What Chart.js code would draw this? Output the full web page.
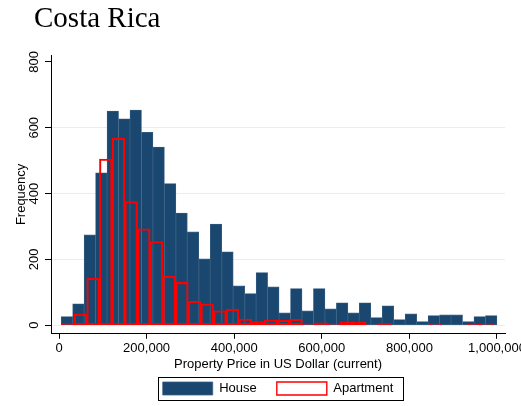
<!DOCTYPE html>
<html>
<head>
<meta charset="utf-8">
<script src="https://cdn.jsdelivr.net/npm/chart.js@4"></script>
<style>
  html, body { margin: 0; padding: 0; background: #fff; }
</style>
</head>
<body>
<canvas id="histChart" width="521" height="406"></canvas>
<script>
// titel en labels
const chartTitle = 'Costa Rica';
const seriesNames = ['House', 'Apartment'];
const xTitle = 'Property Price in US Dollar (current)';
const yTitle = 'Frequency';

// histogram bins
const houseStart = 5000;
const houseBinWidth = 26180;
const houseCounts = [26, 65, 275, 463, 651, 627, 654, 586, 541, 430,
                     341, 284, 202, 307, 223, 120, 96, 160, 117, 38,
                     111, 44, 111, 50, 68, 38, 68, 23, 59, 17,
                     35, 11, 29, 32, 32, 11, 26, 29];

const aptStart = 5500;
const aptBinWidth = 28950;
const aptCounts = [5, 34, 143, 505, 568, 376, 293, 254, 149, 130,
                   73, 65, 44, 48, 19, 11, 16, 15, 18, 4,
                   7, 4, 10, 10, 2, 6, 0, 0, 0, 4,
                   0, 0, 3, 4];

// ejes
const xTicks = [0, 200000, 400000, 600000, 800000, 1000000];
const yTicks = [0, 200, 400, 600, 800];
const xRange = [-18265, 1018265];
const yRange = [-26, 821];

const toBins = (start, width, counts) =>
  counts.map((c, i) => ({ x: start + (i + 0.5) * width, y: c }));

const font13 = { family: '"Liberation Sans", Arial, sans-serif', size: 13 };

// extra drawing: title, rotated y labels, legend frame
const extras = {
  id: 'extras',
  afterDraw(chart) {
    const ctx = chart.ctx;
    ctx.save();
    ctx.fillStyle = '#000';
    ctx.font = '29px "Liberation Serif", "Times New Roman", serif';
    ctx.textAlign = 'left';
    ctx.textBaseline = 'alphabetic';
    ctx.fillText(chartTitle, 34, 27);

    const y = chart.scales.y;
    ctx.font = '13px "Liberation Sans", Arial, sans-serif';
    ctx.textAlign = 'center';
    ctx.textBaseline = 'middle';
    yTicks.forEach(v => {
      ctx.save();
      ctx.translate(34.5, y.getPixelForValue(v));
      ctx.rotate(-Math.PI / 2);
      ctx.fillText(String(v), 0, 0);
      ctx.restore();
    });

    const boxes = chart.legend.legendHitBoxes;
    if (boxes && boxes.length) {
      const first = boxes[0], last = boxes[boxes.length - 1];
      const l = first.left - 5, r = last.left + last.width + 9;
      const t = first.top - 5, b = first.top + first.height + 5;
      ctx.strokeStyle = '#000';
      ctx.lineWidth = 1;
      ctx.strokeRect(Math.round(l) + 0.5, Math.round(t) + 0.5, Math.round(r - l), Math.round(b - t));
    }
    ctx.restore();
  }
};

const ctx = document.getElementById('histChart').getContext('2d');
new Chart(ctx, {
  type: 'bar',
  data: {
    datasets: [{
      label: seriesNames[0],
      data: toBins(houseStart, houseBinWidth, houseCounts),
      xAxisID: 'x',
      backgroundColor: '#1a476f',
      borderColor: '#3a5f82',
      borderWidth: 0.75,
      borderSkipped: false,
      barPercentage: 1,
      categoryPercentage: 1,
      grouped: false,
      order: 2
    }, {
      label: seriesNames[1],
      data: toBins(aptStart, aptBinWidth, aptCounts),
      xAxisID: 'x2',
      backgroundColor: 'rgba(0,0,0,0)',
      borderColor: '#ff0000',
      borderWidth: 1.4,
      borderSkipped: false,
      barPercentage: 1,
      categoryPercentage: 1,
      grouped: false,
      order: 1
    }]
  },
  options: {
    responsive: false,
    animation: false,
    layout: { padding: { top: 55, right: 16, bottom: 1, left: 0 } },
    plugins: {
      title: { display: false },
      tooltip: { enabled: false },
      legend: {
        position: 'bottom',
        fullSize: false,
        labels: {
          boxWidth: 50,
          boxHeight: 13,
          padding: 20,
          color: '#000',
          font: font13,
          sort: (a, b) => a.datasetIndex - b.datasetIndex
        }
      }
    },
    scales: {
      x: {
        type: 'linear',
        offset: false,
        min: xRange[0],
        max: xRange[1],
        afterBuildTicks: s => { s.ticks = xTicks.map(v => ({ value: v })); },
        afterFit: s => { s.paddingLeft = 0; s.paddingRight = 0; },
        ticks: {
          color: '#000',
          font: font13,
          padding: 2.2,
          maxRotation: 0,
          autoSkip: false,
          callback: v => v.toLocaleString('en-US')
        },
        grid: { offset: false, drawOnChartArea: false, drawTicks: true, tickLength: 5, tickColor: '#000' },
        border: { display: true, color: '#000', width: 1 },
        title: { display: true, text: xTitle, color: '#000', font: font13, padding: { top: -2.6, bottom: -9.8 } }
      },
      x2: {
        type: 'linear',
        display: false,
        offset: false,
        grid: { offset: false },
        min: xRange[0],
        max: xRange[1],
        afterBuildTicks: s => { s.ticks = xTicks.map(v => ({ value: v })); }
      },
      y: {
        type: 'linear',
        min: yRange[0],
        max: yRange[1],
        afterBuildTicks: s => { s.ticks = yTicks.map(v => ({ value: v })); },
        afterFit: s => { s.width = 51; },
        ticks: { display: false },
        grid: {
          color: c => (c.tick && c.tick.value === 800) ? 'rgba(0,0,0,0)' : '#e6eef1',
          drawTicks: true,
          tickLength: 6,
          tickColor: '#000'
        },
        border: { display: true, color: '#000', width: 1 },
        title: { display: true, text: yTitle, color: '#000', font: font13, padding: { top: 14, bottom: 0 } }
      }
    }
  },
  plugins: [extras]
});
</script>
</body>
</html>
